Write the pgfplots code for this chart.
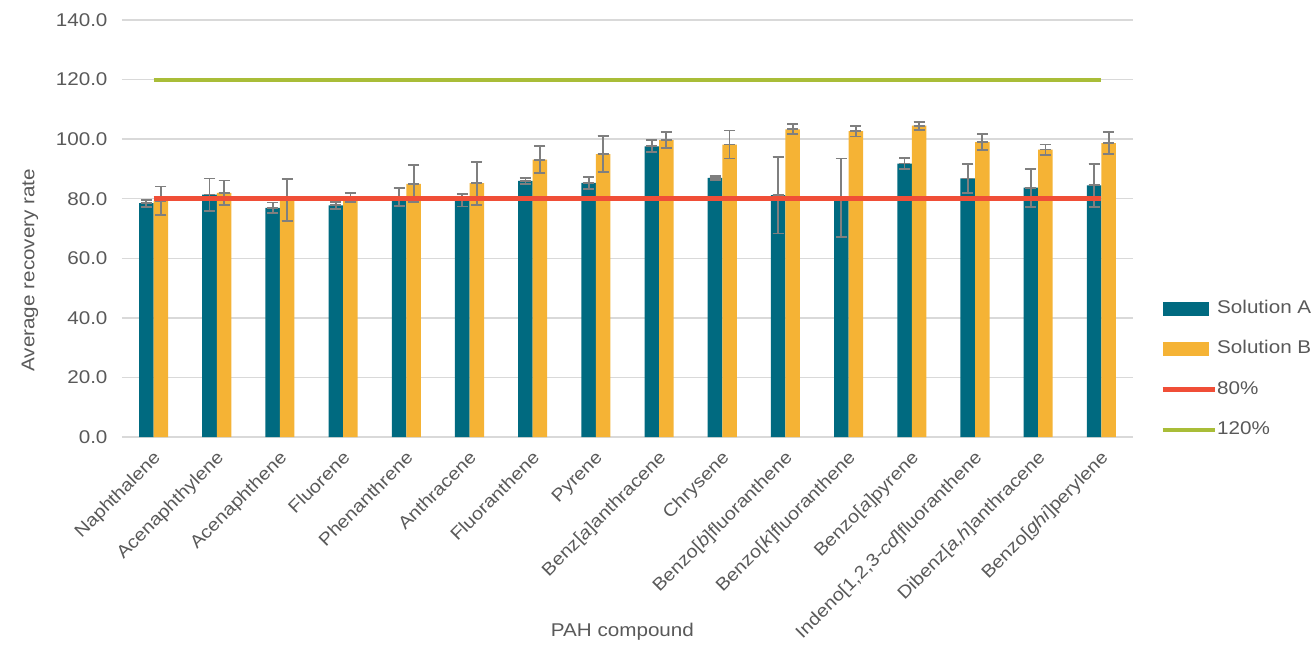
\documentclass[border=0pt]{standalone}
\usepackage{fontspec}
\setmainfont{Liberation Sans}[FakeStretch=1.12]
\usepackage{pgfplots}
\pgfplotsset{compat=1.18}
\definecolor{tealA}{HTML}{006A80}
\definecolor{yellowB}{HTML}{F5B335}
\definecolor{redL}{HTML}{F04E37}
\definecolor{greenL}{HTML}{A9BD38}
\definecolor{gridgray}{HTML}{D9D9D9}
\definecolor{txtgray}{HTML}{595959}
\definecolor{errgray}{HTML}{7F7F7F}
\pgfplotsset{
  myerr/.style={error bars/.cd, y dir=both, y explicit,
    draw error bar/.code 2 args={%
      \draw[errgray, solid, line width=1.8bp] ##1 -- ##2;
      \draw[errgray, solid, line width=1.8bp] ##1 ++(-5.5bp,0) -- ++(11bp,0);
      \draw[errgray, solid, line width=1.8bp] ##2 ++(-5.5bp,0) -- ++(11bp,0);
    }},
}
\begin{document}
\begin{tikzpicture}[font=\fontsize{18.5}{22}\selectfont]
\useasboundingbox (-122bp,-210bp) rectangle (1189bp,437bp);
\begin{axis}[
  at={(0,0)}, anchor=south west,
  width=1011bp, height=417bp, scale only axis,
  xmin=-0.5, xmax=15.5, ymin=0, ymax=140,
  ytick={0,20,...,140},
  /pgf/number format/assume math mode=true,
  yticklabel style={/pgf/number format/fixed, /pgf/number format/fixed zerofill, /pgf/number format/precision=1, xshift=-11bp},
  ymajorgrids, grid style={gridgray, line width=1.3bp},
  axis line style={draw=none},
  major tick length=0pt,
  tick label style={text=txtgray, font=\fontsize{18.5}{22}\selectfont},
  xtick={0,...,15},
  xticklabels={Naphthalene, Acenaphthylene, Acenaphthene, Fluorene, Phenanthrene, Anthracene, Fluoranthene, Pyrene, Benz[\textit{a}]anthracene, Chrysene, Benzo[\textit{b}]fluoranthene, Benzo[\textit{k}]fluoranthene, Benzo[\textit{a}]pyrene, {Indeno[1,2,3-\textit{cd}]fluoranthene}, {Dibenz[\textit{a,h}]anthracene}, Benzo[\textit{ghi}]perylene},
  xticklabel style={rotate=45, anchor=north east, inner sep=0pt, yshift=-8bp, xshift=-10bp, font=\fontsize{17.8}{20}\selectfont},
  xlabel={PAH compound},
  xlabel style={at={(axis description cs:0.495,-0.468)}, anchor=center, text=txtgray},
  ylabel={Average recovery rate},
  ylabel style={at={(axis description cs:-0.091,0.40)}, anchor=center, text=txtgray},
  legend style={at={(axis description cs:1.0267,0.328)}, anchor=north west, draw=none, fill=none,
    font=\fontsize{18.5}{22}\selectfont, text=txtgray, row sep=23.5bp, inner sep=0pt,
    nodes={inner sep=0pt, text height=13bp, text depth=4bp},
    /tikz/every even column/.append style={column sep=1bp}},
  legend cell align=left,
]
\addplot[ybar, fill=tealA, draw=none, bar width=0.23, bar shift=0,
  legend image code/.code={\fill[tealA] (0bp,-7bp) rectangle (46bp,7bp);},
  myerr] coordinates {
  (-0.115,78.5) +- (0,1.2)
  (0.885,81.4) +- (0,5.4)
  (1.885,76.9) +- (0,1.8)
  (2.885,77.8) +- (0,1.2)
  (3.885,80.5) +- (0,3.0)
  (4.885,79.5) +- (0,2.1)
  (5.885,86.0) +- (0,1.0)
  (6.885,85.3) +- (0,2.0)
  (7.885,97.6) +- (0,2.0)
  (8.885,87.0) +- (0,0.6)
  (9.885,81.2) +- (0,12.9)
  (10.885,80.3) +- (0,13.2)
  (11.885,91.8) +- (0,1.8)
  (12.885,86.8) +- (0,4.8)
  (13.885,83.7) +- (0,6.4)
  (14.885,84.5) +- (0,7.2)
};
\addlegendentry{Solution A}
\addplot[ybar, fill=yellowB, draw=none, bar width=0.23, bar shift=0,
  legend image code/.code={\fill[yellowB] (0bp,-7bp) rectangle (46bp,7bp);},
  myerr] coordinates {
  (0.115,79.3) +- (0,4.8)
  (1.115,82.0) +- (0,4.1)
  (2.115,79.6) +- (0,7.0)
  (3.115,80.4) +- (0,1.6)
  (4.115,85.0) +- (0,6.2)
  (5.115,85.2) +- (0,7.2)
  (6.115,93.1) +- (0,4.5)
  (7.115,95.0) +- (0,6.1)
  (8.115,99.7) +- (0,2.7)
  (9.115,98.2) +- (0,4.7)
  (10.115,103.3) +- (0,1.7)
  (11.115,102.7) +- (0,1.8)
  (12.115,104.5) +- (0,1.3)
  (13.115,99.0) +- (0,2.6)
  (14.115,96.5) +- (0,1.7)
  (15.115,98.7) +- (0,3.7)
};
\addlegendentry{Solution B}
\addplot[redL, line width=5bp, mark=none,
  legend image code/.code={\draw[redL, line width=5bp] (0bp,0bp) -- (52bp,0bp);}]
  coordinates {(0,80) (15,80)};
\addlegendentry{80\%}
\addplot[greenL, line width=4bp, mark=none,
  legend image code/.code={\draw[greenL, line width=4bp] (0bp,0bp) -- (52bp,0bp);}]
  coordinates {(0,120) (15,120)};
\addlegendentry{120\%}
\end{axis}
\end{tikzpicture}
\end{document}
